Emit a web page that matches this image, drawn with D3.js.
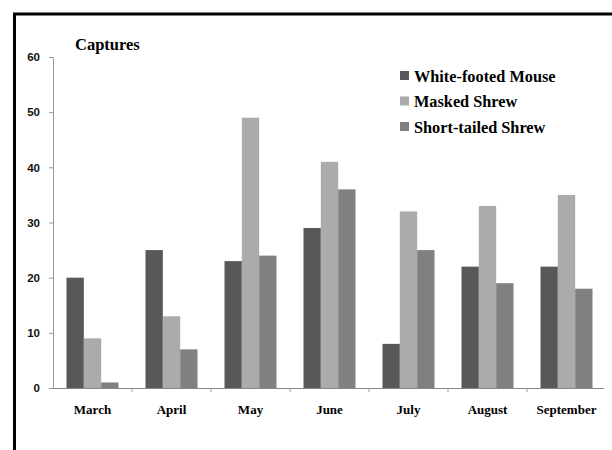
<!DOCTYPE html>
<html>
<head>
<meta charset="utf-8">
<script src="https://cdn.jsdelivr.net/npm/d3@7"></script>
<style>
	body { margin: 0; background: #fff; }
	svg { display: block; }
	.tick text { font-family: "Liberation Sans", Arial, sans-serif; font-weight: bold; font-size: 11.5px; fill: #111; }
</style>
</head>
<body>
<svg width="612" height="450"></svg>
<script>
// months on the x axis
let months = ["March", "April", "May", "June", "July", "August", "September"];
let seriesNames = ["White-footed Mouse", "Masked Shrew", "Short-tailed Shrew"];
let mouse = [20, 25, 23, 29, 8, 22, 22];
let masked = [9, 13, 49, 41, 32, 33, 35];
let shortTailed = [1, 7, 24, 36, 25, 19, 18];
let yTicks = [0, 10, 20, 30, 40, 50, 60];
let colors = ["#585858", "#ababab", "#808080"];

let svg = d3.select("svg");

// frame (only top + left edges visible in the picture)
svg.append("path")
	.attr("d", "M14.5,450 V14 H612")
	.attr("fill", "none")
	.attr("stroke", "#000")
	.attr("stroke-width", 3);

let x = d3.scaleBand().domain(months).range([53, 606]).paddingInner(0).paddingOuter(0);
let x1 = d3.scaleBand().domain(seriesNames).range([13.5, x.bandwidth() - 13.5]);
let y = d3.scaleLinear().domain([0, 60]).range([388, 57]);

let rows = months.map((m, i) => ({ month: m, vals: [mouse[i], masked[i], shortTailed[i]] }));

let gbars = svg.append("g").attr('class', 'bars');
gbars.selectAll("g")
		.data(rows)
	.enter().append("g")
		.attr("transform", d => "translate(" + x(d.month) + ",0)")
	.selectAll("rect")
		.data(d => d.vals.map((v, k) => ({ k: k, v: v })))
	.enter().append("rect")
		.attr("x", d => x1(seriesNames[d.k]))
		.attr("width", x1.bandwidth())
		.attr("y", d => y(d.v))
		.attr("height", d => y(0) - y(d.v))
		.attr("fill", d => colors[d.k]);

// y axis
let gy = svg.append("g")
	.attr("transform", "translate(53,0)")
	.call(d3.axisLeft(y).tickValues(yTicks).tickSize(4).tickPadding(9));
gy.select(".domain").attr("stroke", "#999");
gy.selectAll(".tick line").attr("stroke", "#999");

// x axis
let gx = svg.append("g")
	.attr("transform", "translate(0,388)")
	.call(d3.axisBottom(x).tickSize(0).tickFormat(""));
gx.select(".domain").attr("stroke", "#888").attr("d", "M53,0.5H604");
gx.selectAll(".sep")
		.data(months.slice(1))
	.enter().append("line")
		.attr("class", "sep")
		.attr("x1", d => x(d)).attr("x2", d => x(d))
		.attr("y1", 0).attr("y2", 4)
		.attr("stroke", "#999");

svg.append("g").selectAll("text")
		.data(months)
	.enter().append("text")
		.attr("x", d => x(d) + x.bandwidth() / 2)
		.attr("y", 414)
		.attr("text-anchor", "middle")
		.attr("font-family", "'Liberation Serif', 'Times New Roman', serif")
		.attr("font-weight", "bold")
		.attr("font-size", 13)
		.text(d => d);

// title
svg.append("text")
	.attr("x", 75).attr("y", 50)
	.attr("font-family", "'Liberation Serif', 'Times New Roman', serif")
	.attr("font-weight", "bold")
	.attr("font-size", 16.5)
	.text("Captures");

// legend
let glegend = svg.append("g").attr('class', 'legend');
let items = glegend.selectAll("g")
		.data(seriesNames)
	.enter().append("g")
		.attr("transform", (d, i) => "translate(400," + (76 + i * 25.5) + ")");
items.append("rect")
	.attr("x", 0).attr("y", -5)
	.attr("width", 9).attr("height", 9)
	.attr("fill", (d, i) => colors[i]);
items.append("text")
	.attr("x", 14).attr("y", 5.5)
	.attr("font-family", "'Liberation Serif', 'Times New Roman', serif")
	.attr("font-weight", "bold")
	.attr("font-size", 16.3)
	.text(d => d);
</script>
</body>
</html>
